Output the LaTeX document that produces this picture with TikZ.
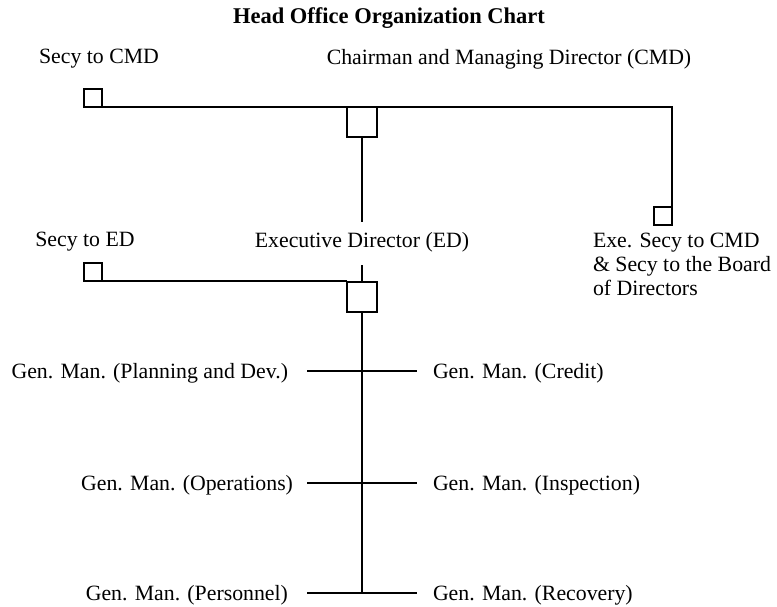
\documentclass[tikz,border=0pt]{standalone}
\usepackage{fontspec}
\setmainfont{Liberation Serif}
\begin{document}
\begin{tikzpicture}[x=1pt,y=-1pt,
  every node/.style={inner sep=0pt, outer sep=0pt},
  lbl/.style={font=\fontsize{21.8}{23.8}\selectfont},
  bigbox/.style={draw, line width=2pt, minimum size=30pt},
  smallbox/.style={draw, line width=2pt, minimum size=18pt},
  ln/.style={line width=2pt}]
\useasboundingbox (0,0) rectangle (777,606);
% title
\node (title) at (389,18) {\fontsize{22.5}{25}\selectfont\bfseries Head Office Organization Chart};
% labels
\node[lbl] (lsecycmd) at (99,59) {Secy to CMD};
\node[lbl] (lcmd) at (509,59) {Chairman and Managing Director (CMD)};
\node[lbl] (lsecyed) at (85,242) {Secy to ED};
\node[lbl] (led) at (362,242) {Executive Director (ED)};
\node[lbl, anchor=north west, align=left] (lexe) at (593,233) {Exe. Secy to CMD\\\& Secy to the Board\\of Directors};
\node[lbl, anchor=east] (lgm1) at (288,373) {Gen. Man. (Planning and Dev.)};
\node[lbl, anchor=east] (lgm2) at (293,485) {Gen. Man. (Operations)};
\node[lbl, anchor=east] (lgm3) at (288,595) {Gen. Man. (Personnel)};
\node[lbl, anchor=west] (rgm1) at (433,373) {Gen. Man. (Credit)};
\node[lbl, anchor=west] (rgm2) at (433,485) {Gen. Man. (Inspection)};
\node[lbl, anchor=west] (rgm3) at (433,595) {Gen. Man. (Recovery)};
% boxes
\node[smallbox] (bsecycmd) at (93,98) {};
\node[bigbox] (bcmd) at (362,122) {};
\node[smallbox] (bexe) at (663,216) {};
\node[smallbox] (bsecyed) at (93,272) {};
\node[bigbox] (bed) at (362,297) {};
% connectors
\coordinate (cR) at (672,107);
\draw[ln] (bsecycmd.south west) -- (cR) -- (bexe.north east);
\coordinate (cmdEnd) at (362,222);
\draw[ln] (bcmd.south) -- (cmdEnd);
\coordinate (edTop) at (362,265);
\draw[ln] (edTop) -- (bed.north);
\draw[ln] (bsecyed.south west) -- (bed.west |- bsecyed.south);
\coordinate (vEnd) at (362,593);
\draw[ln] (bed.south) -- (vEnd);
\coordinate (b1l) at (307,371); \coordinate (b1r) at (417,371);
\coordinate (b2l) at (307,483); \coordinate (b2r) at (417,483);
\coordinate (b3l) at (307,593); \coordinate (b3r) at (417,593);
\draw[ln] (b1l) -- (b1r);
\draw[ln] (b2l) -- (b2r);
\draw[ln] (b3l) -- (b3r);
\end{tikzpicture}
\end{document}
